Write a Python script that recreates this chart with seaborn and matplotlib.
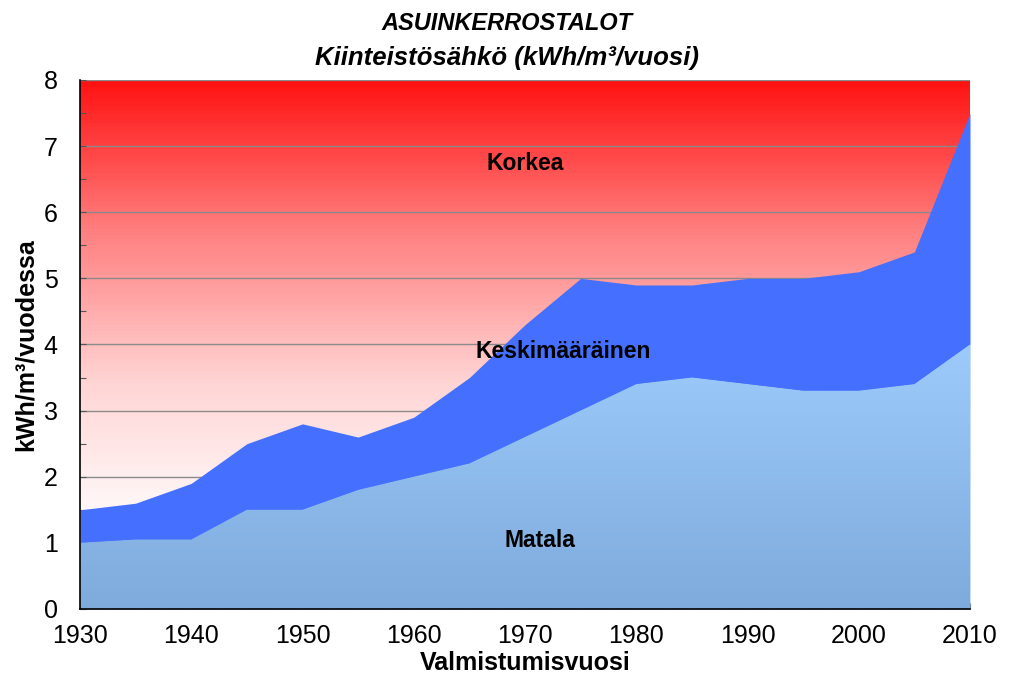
import numpy as np
import matplotlib
matplotlib.use("Agg")
import matplotlib.pyplot as plt
import seaborn as sns
from matplotlib.colors import LinearSegmentedColormap
from matplotlib.ticker import MultipleLocator

years = [1930, 1935, 1940, 1945, 1950, 1955, 1960, 1965, 1970, 1975,
         1980, 1985, 1990, 1995, 2000, 2005, 2010]
matala = [1.0, 1.05, 1.05, 1.5, 1.5, 1.8, 2.0, 2.2, 2.6, 3.0,
          3.4, 3.5, 3.4, 3.3, 3.3, 3.4, 4.0]
keski_top = [1.5, 1.6, 1.9, 2.5, 2.8, 2.6, 2.9, 3.5, 4.3, 5.0,
             4.9, 4.9, 5.0, 5.0, 5.1, 5.4, 7.5]
labels = ["Korkea", "Keskimääräinen", "Matala"]

sns.set_style("white")
plt.rcParams['font.family'] = ['Liberation Sans', 'DejaVu Sans']
plt.rcParams['text.color'] = 'black'
plt.rcParams['axes.labelcolor'] = 'black'

W, H = 1013, 694
fig = plt.figure(figsize=(W / 100, H / 100), dpi=100)
# axes on whole pixels: x 80..970, y 80..609
ax = fig.add_axes([80 / W, (H - 609) / H, 890 / W, 529 / H])
x0, x1, ymax = years[0], years[-1], 8

# Korkea: red gradient background
red = LinearSegmentedColormap.from_list("r", ["#ffffff", "#ffd6d6", "#ff8080", "#ff1010"])
edges = np.linspace(1.0, ymax, 141)
for lo, hi in zip(edges[:-1], edges[1:]):
    ax.fill_between([x0, x1], lo, hi, color=red((lo - 1.0) / (ymax - 1.0)),
                    lw=0, antialiased=False, zorder=0)

ax.yaxis.grid(True, color="#8a8a8a", lw=1.0, zorder=1)
ax.set_axisbelow(True)

# Keskimääräinen
ax.fill_between(years, matala, keski_top, color="#4570ff", lw=0, zorder=2)

# Matala: vertical gradient clipped to the area
blue = LinearSegmentedColormap.from_list("b", ["#7eaadc", "#9ccbfb"])
poly = ax.fill_between(years, 0, matala, color=blue(0.5), lw=0, zorder=3)
bedges = np.linspace(0, max(matala), 81)
for lo, hi in zip(bedges[:-1], bedges[1:]):
    band = ax.fill_between([x0, x1], lo, hi, color=blue(lo / max(matala)),
                           lw=0, antialiased=False, zorder=3)
    band.set_clip_path(poly.get_paths()[0], transform=ax.transData)

ax.set_xlim(x0, x1)
ax.set_ylim(0, ymax)
ax.xaxis.set_major_locator(MultipleLocator(10))
ax.xaxis.set_minor_locator(MultipleLocator(2.5))
ax.yaxis.set_major_locator(MultipleLocator(1))
ax.yaxis.set_minor_locator(MultipleLocator(0.5))
ax.tick_params(which="both", direction="in", length=4, width=0.8, color="#555555",
               bottom=True, left=True, labelsize=18, labelcolor="black")
ax.tick_params(axis="x", pad=11)
ax.tick_params(axis="y", pad=16)
ax.spines["top"].set_visible(False)
ax.spines["right"].set_visible(False)
for s in ["left", "bottom"]:
    ax.spines[s].set_color("black")
    ax.spines[s].set_linewidth(1.2)
    ax.spines[s].set_zorder(5)

ax.text(1970, 6.73, labels[0], ha="center", va="center", fontsize=16.5, fontweight="bold", zorder=6)
ax.text(1973.4, 3.89, labels[1], ha="center", va="center", fontsize=16.5, fontweight="bold", zorder=6)
ax.text(1971.3, 1.03, labels[2], ha="center", va="center", fontsize=16.5, fontweight="bold", zorder=6)

ax.set_xlabel("Valmistumisvuosi", fontsize=18, fontweight="bold", labelpad=2)
ax.set_ylabel("kWh/m³/vuodessa", fontsize=18, fontweight="bold", labelpad=4)
fig.text(0.5, 0.966, "ASUINKERROSTALOT", ha="center", va="center",
         fontsize=17, fontweight="bold", fontstyle="italic")
fig.text(0.5, 0.916, "Kiinteistösähkö (kWh/m³/vuosi)", ha="center", va="center",
         fontsize=18.5, fontweight="bold", fontstyle="italic")

fig.savefig("out.png", dpi=100)
